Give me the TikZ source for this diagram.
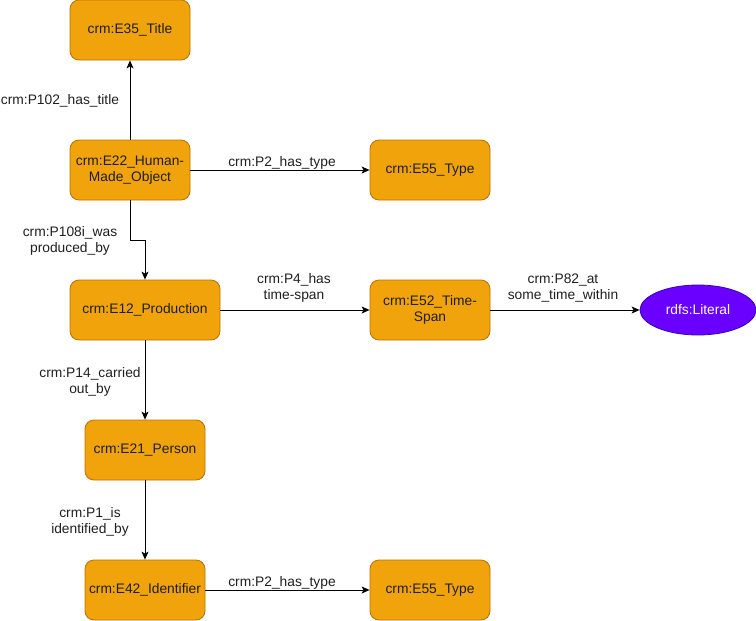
\documentclass[tikz,border=0pt]{standalone}
\usepackage{fontspec}
\setmainfont{Liberation Sans}
\usetikzlibrary{arrows.meta,shapes.geometric}
\definecolor{ofill}{HTML}{F0A30A}
\definecolor{oline}{HTML}{BD7000}
\definecolor{pfill}{HTML}{6A00FF}
\definecolor{pline}{HTML}{3700CC}
\begin{document}
\begin{tikzpicture}[x=1pt,y=-1pt,
  every node/.style={font=\fontsize{13.8}{16.5}\selectfont},
  cls/.style={draw=oline,fill=ofill,rounded corners=9pt,minimum height=60pt,
    inner sep=2pt,align=center,text=black!88,line width=0.8pt},
  lit/.style={ellipse,draw=pline,fill=pfill,text=white,minimum width=116pt,
    minimum height=50pt,inner sep=0pt,line width=0.8pt},
  rel/.style={draw=black,line width=0.9pt,-{Stealth[length=8pt,width=7pt,inset=2pt]}},
  lbl/.style={align=center,inner sep=1pt,text=black!88},
  onl/.style={fill=white,inner sep=0.5pt,text=black!88}]
\useasboundingbox (0,0) rectangle (756,621);

% classes
\node[cls,minimum width=120pt] (title) at (130,30) {crm:E35\_Title};
\node[cls,minimum width=120pt] (hmo) at (130,170) {crm:E22\_Human-\\Made\_Object};
\node[cls,minimum width=120pt] (type1) at (430,170) {crm:E55\_Type};
\node[cls,minimum width=150pt] (prod) at (145,310) {crm:E12\_Production};
\node[cls,minimum width=120pt] (span) at (430,310) {crm:E52\_Time-\\Span};
\node[lit] (lit) at (698,310) {rdfs:Literal};
\node[cls,minimum width=120pt] (person) at (145,450) {crm:E21\_Person};
\node[cls,minimum width=120pt] (ident) at (145,590) {crm:E42\_Identifier};
\node[cls,minimum width=120pt] (type2) at (430,590) {crm:E55\_Type};

% properties
\draw[rel] (hmo) -- (title);
\node[lbl] (l1) at (60,101) {crm:P102\_has\_title};

\draw[rel] (hmo) -- (type1);
\node[onl,anchor=base] (l2) at (282,166) {crm:P2\_has\_type};

\coordinate (b1) at (130,240);
\coordinate (b2) at (145,240);
\draw[rel] (hmo.south) -- (b1) -- (b2) -- (prod.north);
\node[lbl] (l3) at (70,241) {crm:P108i\_was\\produced\_by};

\draw[rel] (prod) -- (span);
\node[lbl] (l4) at (294,288) {crm:P4\_has\\time-span};

\draw[rel] (span) -- (lit);
\node[lbl] (l5) at (563,288) {crm:P82\_at\\some\_time\_within};

\draw[rel] (prod) -- (person);
\node[lbl] (l6) at (90,382) {crm:P14\_carried\\out\_by};

\draw[rel] (person) -- (ident);
\node[lbl] (l7) at (90,522) {crm:P1\_is\\identified\_by};

\draw[rel] (ident) -- (type2);
\node[onl,anchor=base] (l8) at (282,586) {crm:P2\_has\_type};
\end{tikzpicture}
\end{document}
